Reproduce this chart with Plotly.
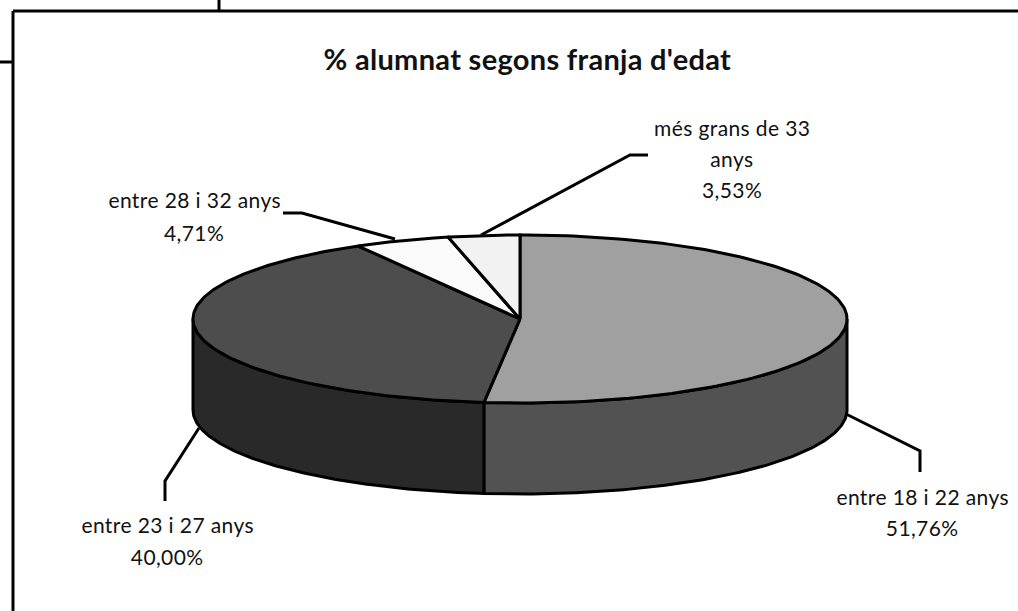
import numpy as np
import plotly.graph_objects as go

# Data
categories = ["entre 18 i 22 anys", "entre 23 i 27 anys", "entre 28 i 32 anys", "més grans de 33 anys"]
shares = [51.76, 40.00, 4.71, 3.53]
value_labels = ["51,76%", "40,00%", "4,71%", "3,53%"]
title_text = "% alumnat segons franja d'edat"

# Styles and geometry of the pie, in page pixels
top_colors = ["#A0A0A0", "#4D4D4D", "#FAFAFA", "#F2F2F2"]
side_colors = ["#525252", "#292929", None, None]
CX, CY, RX, RY, DEPTH = 520.0, 319.0, 327.0, 84.0, 91.0
W, H = 1018, 611
FONT = "Lato"
INK = "#111111"
LW = 3


def rim(a0, a1, n=160):
    t = np.radians(np.linspace(a0, a1, n))
    return CX + RX * np.sin(t), CY - RY * np.cos(t)


fig = go.Figure()

edges = np.concatenate([[0], np.cumsum(shares)]) / sum(shares) * 360

# Side walls (only the front half of the disc, 90 to 270 degrees, can be seen)
for i, color in enumerate(side_colors):
    a0, a1 = max(edges[i], 90), min(edges[i + 1], 270)
    if color is None or a1 <= a0:
        continue
    x, y = rim(a0, a1)
    fig.add_trace(go.Scatter(
        x=np.concatenate([x, x[::-1], x[:1]]),
        y=np.concatenate([y, y[::-1] + DEPTH, y[:1]]),
        mode="lines", fill="toself", fillcolor=color,
        line=dict(color="black", width=LW), hoverinfo="skip", showlegend=False,
    ))

# Top faces
for i, color in enumerate(top_colors):
    x, y = rim(edges[i], edges[i + 1])
    fig.add_trace(go.Scatter(
        x=np.concatenate([[CX], x, [CX]]),
        y=np.concatenate([[CY], y, [CY]]),
        mode="lines", fill="toself", fillcolor=color,
        line=dict(color="black", width=LW), hoverinfo="skip", showlegend=False,
    ))

# Leader lines
leaders = [
    ([846, 920, 920], [414, 451, 472]),
    ([199, 165, 165], [428, 481, 501]),
    ([395, 302, 283], [239, 213, 213]),
    ([481, 630, 648], [235, 155, 155]),
]
for lx, ly in leaders:
    fig.add_trace(go.Scatter(x=lx, y=ly, mode="lines",
                             line=dict(color="black", width=LW),
                             hoverinfo="skip", showlegend=False))

# Frame pieces
frame = [
    ([13, 13], [H, 11]),
    ([13, W], [11, 11]),
    ([219, 219], [0, 11]),
    ([0, 13], [62, 62]),
]
for fx, fy in frame:
    fig.add_trace(go.Scatter(x=fx, y=fy, mode="lines",
                             line=dict(color="black", width=3),
                             hoverinfo="skip", showlegend=False))


def label(x, y, text, size=21, bold=False):
    fig.add_annotation(x=x, y=y, text=f"<b>{text}</b>" if bold else text, showarrow=False,
                       xanchor="center", yanchor="middle",
                       font=dict(family=FONT, size=size, color=INK))


label(527, 58, title_text, size=29, bold=True)
label(922, 496, categories[0])
label(922, 527, value_labels[0])
label(167, 524, categories[1])
label(167, 556, value_labels[1])
label(194, 199, categories[2])
label(194, 232, value_labels[2])
label(732, 127, "més grans de 33")
label(732, 158, "anys")
label(732, 189, value_labels[3])

fig.update_layout(
    width=W, height=H, margin=dict(l=0, r=0, t=0, b=0),
    paper_bgcolor="white", plot_bgcolor="white", showlegend=False,
    xaxis=dict(range=[0, W], visible=False, fixedrange=True),
    yaxis=dict(range=[H, 0], visible=False, fixedrange=True),
)

post = """
document.body.style.margin = '0';
document.body.style.overflow = 'hidden';
document.querySelectorAll('.annotation-text').forEach(function (t) {
  t.style.letterSpacing = t.textContent.startsWith('%') ? '0.3px' : '0.4px';
});
"""
fig.write_html("out.html", config=dict(displayModeBar=False), post_script=post)
